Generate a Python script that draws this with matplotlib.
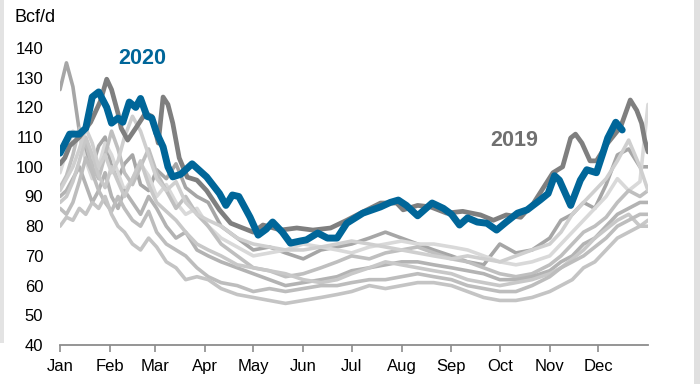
import matplotlib
matplotlib.use("Agg")
import matplotlib.pyplot as plt
from matplotlib.patches import Rectangle

plt.rcParams['font.family'] = ['Liberation Sans', 'DejaVu Sans']

# ---------------- data ----------------
month_labels = ["Jan", "Feb", "Mar", "Apr", "May", "Jun",
                "Jul", "Aug", "Sep", "Oct", "Nov", "Dec"]
month_starts = [0, 31, 59, 90, 120, 151, 181, 212, 243, 273, 304, 334]

# common day grid for historical (grey) years
hist_days = [0, 4, 8, 12, 16, 20, 24, 28, 32, 36, 40, 45, 50, 55, 60, 66, 72, 78, 85, 92,
             100, 110, 120, 130, 140, 151, 162, 172, 181, 192, 202, 212, 222, 232, 243,
             253, 263, 273, 283, 293, 304, 311, 318, 325, 332, 339, 346, 353, 360, 365]

hist_a = [126, 135, 127, 112, 104, 100, 107, 110, 100, 96, 101, 104, 94, 92, 99, 96, 101, 93, 90, 88,
          80, 76, 72, 73, 71, 69, 72, 73, 74, 76, 78, 76, 74, 72, 70, 68, 67, 74, 71, 72,
          76, 82, 84, 88, 86, 94, 104, 106, 100, 100]
hist_b = [98, 105, 112, 110, 102, 96, 100, 108, 104, 98, 92, 96, 101, 97, 90, 94, 88, 84, 86, 80,
          76, 73, 70, 71, 72, 74, 73, 72, 71, 73, 74, 75, 74, 74, 73, 72, 70, 68, 67, 68,
          70, 74, 78, 82, 86, 90, 96, 92, 95, 121]
hist_c = [93, 97, 104, 113, 108, 100, 96, 104, 112, 106, 98, 94, 100, 106, 98, 92, 86, 90, 84, 80,
          74, 70, 66, 65, 63, 64, 66, 68, 70, 69, 71, 72, 73, 71, 69, 68, 66, 64, 63, 64,
          67, 70, 74, 78, 80, 83, 88, 92, 90, 92]
hist_d = [90, 92, 96, 100, 94, 88, 92, 98, 90, 86, 92, 88, 84, 90, 86, 80, 76, 78, 72, 70,
          68, 66, 64, 62, 60, 61, 62, 63, 65, 66, 67, 68, 68, 67, 66, 65, 64, 62, 62, 63,
          65, 68, 70, 74, 76, 80, 84, 86, 88, 88]
hist_e = [88, 90, 95, 102, 110, 104, 97, 93, 100, 95, 90, 96, 102, 94, 88, 85, 82, 78, 74, 72,
          70, 67, 66, 65, 64, 62, 61, 62, 64, 66, 68, 67, 66, 65, 64, 62, 61, 60, 61, 62,
          64, 66, 69, 72, 76, 79, 82, 84, 80, 82]
hist_f = [86, 84, 88, 95, 103, 98, 92, 88, 85, 90, 86, 82, 80, 85, 78, 74, 72, 70, 66, 63,
          61, 60, 58, 59, 58, 59, 60, 60, 61, 62, 62, 63, 64, 63, 62, 60, 59, 58, 58, 60,
          63, 66, 68, 70, 73, 76, 80, 82, 84, 84]
hist_g = [80, 83, 82, 86, 84, 88, 86, 90, 84, 80, 78, 74, 72, 76, 73, 68, 66, 62, 63, 62,
          59, 57, 56, 55, 54, 55, 56, 57, 58, 60, 59, 60, 61, 61, 60, 58, 56, 55, 55, 56,
          58, 60, 62, 66, 68, 72, 76, 78, 80, 80]
hist_h = [92, 96, 100, 106, 113, 108, 100, 104, 98, 102, 110, 117, 112, 104, 96, 92, 95, 88, 84, 82,
          80, 76, 74, 73, 72, 72, 73, 74, 75, 74, 73, 72, 71, 70, 69, 70, 69, 68, 70, 72,
          74, 78, 84, 88, 92, 96, 102, 109, 100, 92]
hist_series = [hist_a, hist_b, hist_c, hist_d, hist_e, hist_f, hist_g, hist_h]
hist_colors = ["#a6a6a6", "#d9d9d9", "#bfbfbf", "#b3b3b3", "#c8c8c8", "#bdbdbd", "#c4c4c4", "#cfcfcf"]

days_2019 = [0, 3, 6, 12, 19, 25, 29, 32, 36, 38, 42, 47, 53, 57, 61, 64, 67, 70, 74, 79, 85, 91,
             99, 106, 112, 120, 126, 137, 147, 157, 168, 178, 188, 199, 209, 213, 222, 230, 240,
             250, 261, 269, 277, 286, 294, 306, 312, 317, 320, 324, 329, 333, 340, 348, 354, 358,
             361, 363, 365]
vals_2019 = [101, 103, 107, 110, 115, 122, 129.5, 126, 118, 113, 109, 113, 118, 117, 108, 123.5, 121,
             114.7, 103, 96.5, 95.5, 92, 85.5, 81, 79.7, 78, 80.4, 78.7, 79.4, 78.7, 79.4, 82, 84.8,
             87.8, 87.8, 85.5, 87, 86.5, 84.4, 85, 83.8, 82, 83.8, 83, 87.8, 98, 100, 109.7, 111,
             108, 102, 102, 108, 113.4, 122.5, 119, 114.7, 109, 105]

days_2020 = [0, 6, 12, 16, 20, 24, 29, 32, 36, 39, 43, 47, 50, 54, 57, 60, 64, 67, 70, 75, 82,
             91, 99, 103, 107, 111, 118, 123, 128, 132, 138, 143, 149, 153, 160, 166, 172, 178,
             188, 199, 205, 210, 215, 222, 231, 238, 243, 248, 253, 259, 265, 271, 277, 284, 290,
             298, 303, 307, 310, 317, 323, 327, 333, 337, 340, 345, 349]
vals_2020 = [104.6, 111, 111, 113, 123.5, 125.2, 120, 114.7, 116.4, 115, 121.8, 120, 123, 117,
             116.4, 111.4, 106.7, 100, 96.6, 97.5, 101, 96.6, 91, 87, 90.5, 90, 83, 77, 79, 81.4,
             78, 74.3, 75, 75.4, 77.7, 76, 76, 81, 84.4, 86.5, 88, 88.8, 87, 83.5, 87.8, 86, 84,
             80.4, 82.8, 81.4, 81, 78.7, 81.4, 84.4, 85.5, 88.8, 91, 97, 95.5, 87, 95.5, 99, 98,
             104.6, 109.7, 115, 112.4]

# ---------------- figure ----------------
fig = plt.figure(figsize=(7.0, 3.84), dpi=100)
fig.patch.set_facecolor("white")
fig.patches.append(Rectangle((0, 1 - 343 / 384), 4 / 700, 343 / 384, transform=fig.transFigure,
                             facecolor="#e3e3e3", edgecolor="none"))
fig.patches.append(Rectangle((694 / 700, 0), 6 / 700, 1, transform=fig.transFigure,
                             facecolor="#e0e0e0", edgecolor="none"))

ax = fig.add_axes([60 / 700, 1 - 345 / 384, 588 / 700, 297 / 384])

for vals, col in zip(hist_series, hist_colors):
    ax.plot(hist_days, vals, color=col, lw=2.6, solid_joinstyle="round", solid_capstyle="round")

ax.plot(days_2019, vals_2019, color="#7f7f7f", lw=3.4, solid_joinstyle="round", solid_capstyle="round")
ax.plot(days_2020, vals_2020, color="#006699", lw=5.0, solid_joinstyle="round", solid_capstyle="round")

ax.set_xlim(0, 365)
ax.set_ylim(40, 140)
ax.set_yticks(range(40, 141, 10))
ax.set_xticks(month_starts)
ax.set_xticklabels(month_labels)

for s in ["top", "right", "left"]:
    ax.spines[s].set_visible(False)
ax.spines["bottom"].set_color("#8c8c8c")
ax.spines["bottom"].set_linewidth(1.3)

ax.tick_params(axis="y", length=0, pad=12, labelsize=12, labelcolor="black")
ax.tick_params(axis="x", length=5, width=1.2, color="#8c8c8c", pad=5, labelsize=12,
               labelcolor="black", direction="out")

ax.text(51, 136.6, "2020", color="#006699", fontsize=15.5, fontweight="bold",
        ha="center", va="center", clip_on=False)
ax.text(282, 108.7, "2019", color="#707070", fontsize=15.5, fontweight="bold",
        ha="center", va="center", clip_on=False)

fig.text(15 / 700, 1 - 17 / 384, "Bcf/d", fontsize=13, ha="left", va="center", color="black")

fig.savefig("out.png", dpi=100)
